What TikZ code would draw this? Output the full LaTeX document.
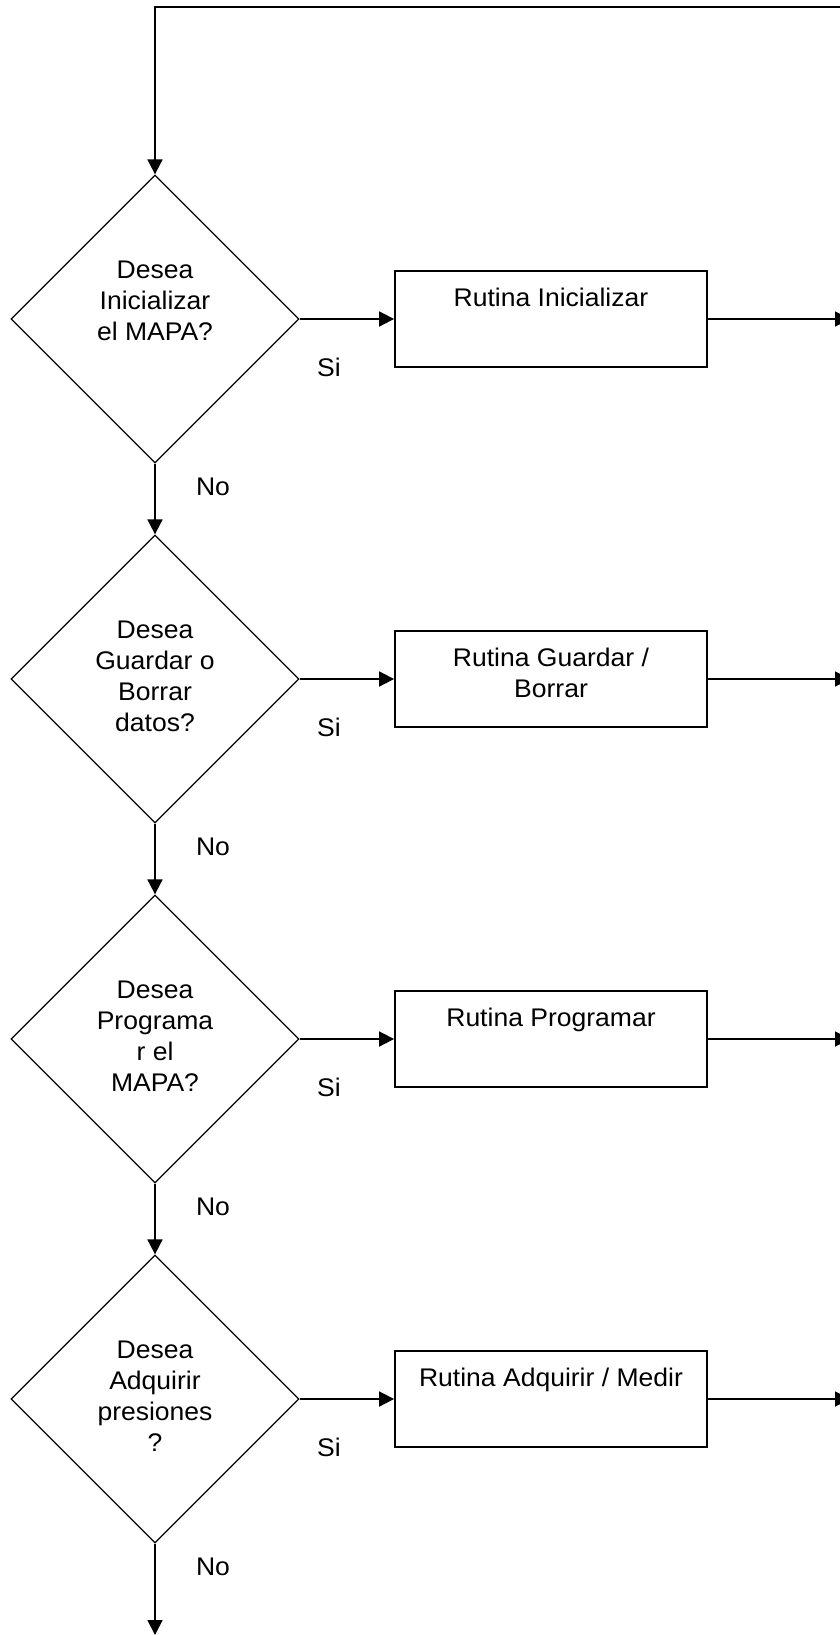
\documentclass[tikz,border=0pt]{standalone}
\usepackage{fontspec}
\setmainfont{Liberation Sans}[FakeStretch=1.04]
\usetikzlibrary{shapes.geometric,arrows.meta}
\begin{document}
\begin{tikzpicture}[x=1pt,y=-1pt,
  decision/.style={draw, line width=1.3pt, diamond, aspect=1,
    minimum width=288pt, minimum height=288pt, inner sep=0pt},
  routine/.style={draw, line width=1.8pt, rectangle,
    minimum width=312pt, minimum height=96pt, inner sep=0pt},
  caption/.style={anchor=base, inner sep=0pt, font=\fontsize{25.5}{31}\selectfont},
  answer/.style={inner sep=0pt, font=\fontsize{25.5}{31}\selectfont},
  flow/.style={line width=1.8pt, -{Triangle[length=15pt,width=15pt]}},
]
\useasboundingbox (0,0) rectangle (840,1635);

% decisions
\node[decision] (d1) at (155,319) {};
\node[decision] (d2) at (155,679) {};
\node[decision] (d3) at (155,1039) {};
\node[decision] (d4) at (155,1399) {};

\node[caption] (d1t) at (155,278) {\begin{tabular}[t]{@{}c@{}}Desea\\Inicializar\\el MAPA?\end{tabular}};
\node[caption] (d2t) at (155,638) {\begin{tabular}[t]{@{}c@{}}Desea\\Guardar o\\Borrar\\datos?\end{tabular}};
\node[caption] (d3t) at (155,998) {\begin{tabular}[t]{@{}c@{}}Desea\\Programa\\r el\\MAPA?\end{tabular}};
\node[caption] (d4t) at (155,1358) {\begin{tabular}[t]{@{}c@{}}Desea\\Adquirir\\presiones\\?\end{tabular}};

% routines
\node[routine] (b1) at (551,319) {};
\node[routine] (b2) at (551,679) {};
\node[routine] (b3) at (551,1039) {};
\node[routine] (b4) at (551,1399) {};

\node[caption] (b1t) at (551,306) {Rutina Inicializar};
\node[caption] (b2t) at (551,666) {\begin{tabular}[t]{@{}c@{}}Rutina Guardar /\\Borrar\end{tabular}};
\node[caption] (b3t) at (551,1026) {Rutina Programar};
\node[caption] (b4t) at (551,1386) {Rutina Adquirir / Medir};

% answers
\node[answer] (s1) at (329,367) {Si};
\node[answer] (s2) at (329,727) {Si};
\node[answer] (s3) at (329,1087) {Si};
\node[answer] (s4) at (329,1447) {Si};
\node[answer] (n1) at (213,487) {No};
\node[answer] (n2) at (213,847) {No};
\node[answer] (n3) at (213,1207) {No};
\node[answer] (n4) at (213,1567) {No};

% free ends
\coordinate (loopR) at (845,7);
\coordinate (loopL) at (155,7);
\coordinate (o1) at (850,319);
\coordinate (o2) at (850,679);
\coordinate (o3) at (850,1039);
\coordinate (o4) at (850,1399);
\coordinate (fin) at (155,1635);

% connectors
\draw[flow] (loopR) -- (loopL) -- (d1.north);
\draw[flow] (d1.south) -- (d2.north);
\draw[flow] (d2.south) -- (d3.north);
\draw[flow] (d3.south) -- (d4.north);
\draw[flow] (d4.south) -- (fin);

\draw[flow] (d1.east) -- (b1.west);
\draw[flow] (d2.east) -- (b2.west);
\draw[flow] (d3.east) -- (b3.west);
\draw[flow] (d4.east) -- (b4.west);

\draw[flow] (b1.east) -- (o1);
\draw[flow] (b2.east) -- (o2);
\draw[flow] (b3.east) -- (o3);
\draw[flow] (b4.east) -- (o4);
\end{tikzpicture}
\end{document}
